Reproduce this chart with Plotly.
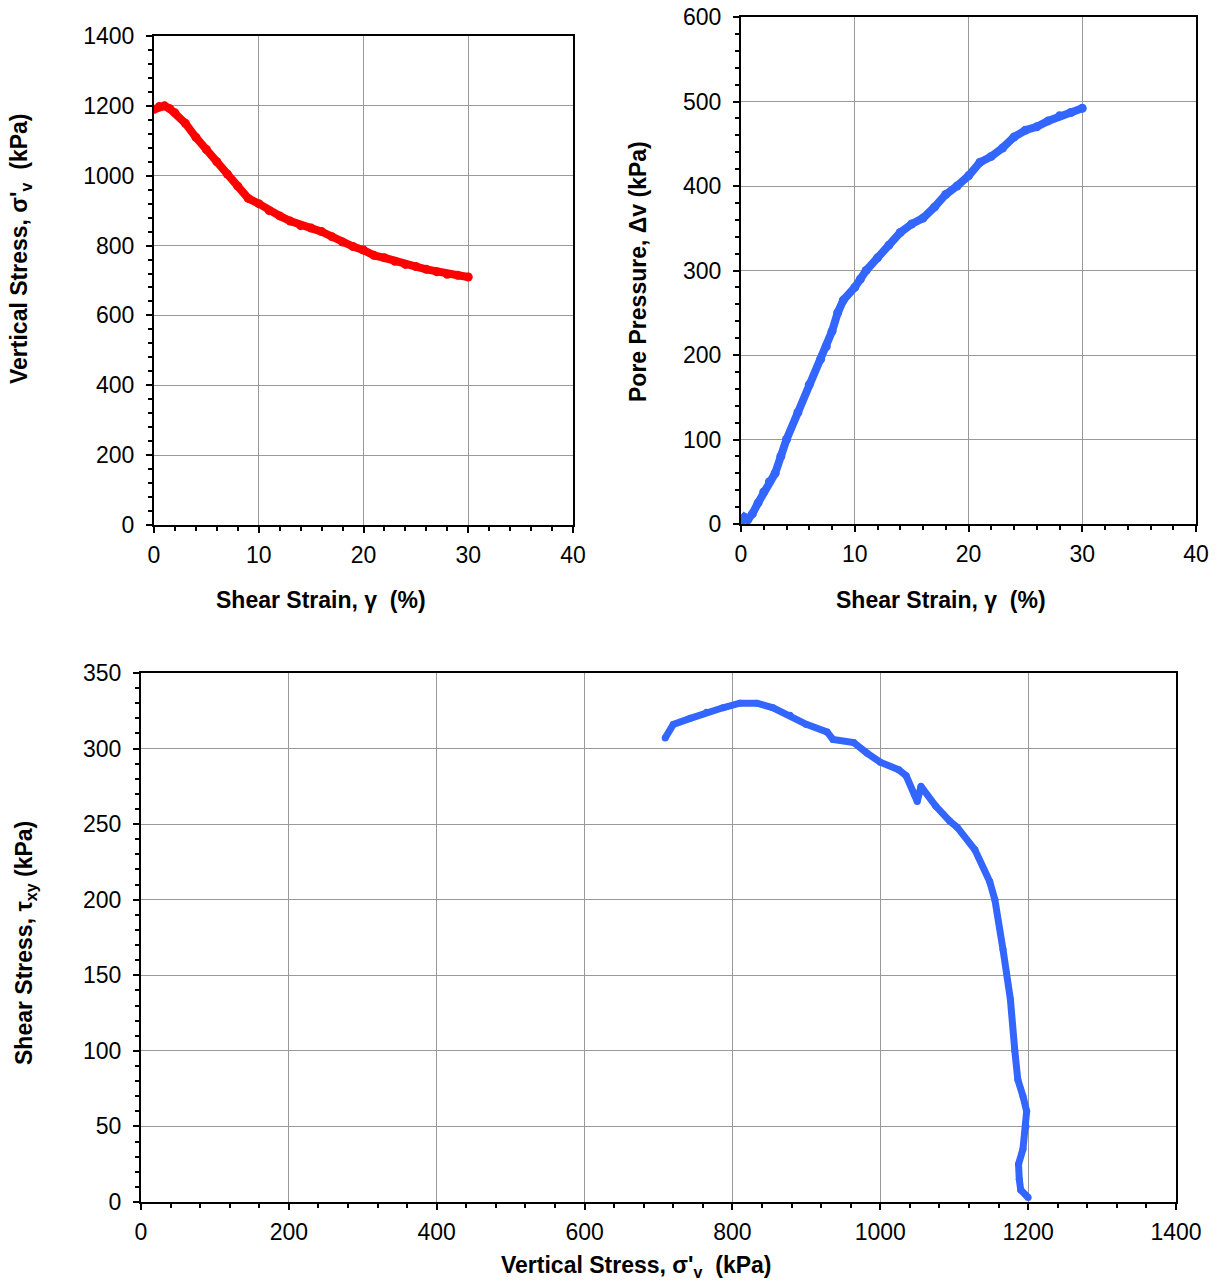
import plotly.graph_objects as go

# Top-left: vertical stress vs shear strain
strain_a = [0, 0.5, 1, 1.5, 2, 3, 4, 5, 6, 7, 8, 9, 10, 11, 12, 13, 14, 15, 16, 17, 18, 19, 20, 21, 22, 23, 24, 25, 26, 27, 28, 29, 30]
sigv_a = [1190, 1198, 1200, 1192, 1180, 1150, 1110, 1075, 1040, 1005, 970, 935, 920, 900, 885, 870, 857, 850, 840, 825, 810, 797, 787, 772, 765, 755, 746, 740, 732, 725, 718, 715, 710]

# Top-right: pore pressure vs shear strain
strain_b = [0, 0.3, 0.6, 1, 1.5, 2, 2.5, 3, 3.5, 4, 5, 6, 7, 7.5, 8, 8.5, 9, 10, 10.5, 11, 12, 13, 14, 15, 16, 17, 18, 19, 20, 21, 22, 23, 24, 25, 26, 27, 28, 29, 30]
pore_b = [2, 8, 5, 12, 25, 38, 50, 60, 80, 100, 132, 165, 195, 210, 228, 250, 265, 280, 290, 300, 315, 330, 345, 355, 362, 375, 390, 400, 412, 428, 435, 445, 458, 466, 470, 477, 483, 487, 492]

# Bottom: shear stress vs vertical stress (stress path)
sigv_c = [1200, 1190, 1188, 1187, 1193, 1197, 1198, 1193, 1186, 1182, 1176, 1166, 1155, 1148, 1128, 1104, 1094, 1075, 1058, 1055, 1050, 1046, 1035, 1025, 1000, 982, 964, 936, 928, 900, 878, 855, 833, 810, 787, 765, 743, 720, 709]
tau_c = [3, 8, 15, 25, 35, 50, 60, 70, 81, 100, 134, 167, 200, 212, 233, 248, 252, 262, 272, 275, 265, 270, 282, 286, 291, 297, 304, 306, 311, 316, 322, 327, 330, 330, 327, 324, 320, 316, 307]

FONT = "Liberation Sans, Arial, sans-serif"
OFF = 8  # page body margin
W, H = 1222 - OFF, 1283 - OFF

fig = go.Figure()
fig.add_trace(go.Scatter(x=strain_a, y=sigv_a, mode="lines+markers", line=dict(color="#FF0000", width=8),
                         marker=dict(color="#FF0000", size=9), xaxis="x", yaxis="y", showlegend=False))
fig.add_trace(go.Scatter(x=strain_b, y=pore_b, mode="lines+markers", line=dict(color="#3366FF", width=8),
                         marker=dict(color="#3366FF", size=9), xaxis="x2", yaxis="y2", showlegend=False))
fig.add_trace(go.Scatter(x=sigv_c, y=tau_c, mode="lines+markers", line=dict(color="#3366FF", width=7),
                         marker=dict(color="#3366FF", size=7), xaxis="x3", yaxis="y3", showlegend=False))

def px_x(p):
    return (p - OFF) / W

def px_y(p):
    return 1 - (p - OFF) / H

def axis(domain, rng, dtick, minor, anchor, standoff):
    return dict(domain=domain, range=rng, dtick=dtick, tick0=0, anchor=anchor,
                showline=True, linecolor="black", linewidth=2, mirror=True,
                ticks="outside", ticklen=6, tickwidth=1.5, tickcolor="black",
                showgrid=True, gridcolor="#9a9a9a", gridwidth=1, zeroline=False,
                tickfont=dict(family=FONT, size=23, color="black"),
                ticklabeloverflow="allow", ticklabelstandoff=standoff,
                minor=dict(dtick=minor, tick0=0, ticks="outside", ticklen=4, tickcolor="black", showgrid=False),
                fixedrange=True)

fig.update_layout(
    width=W, height=H, margin=dict(l=0, r=0, t=0, b=0, pad=0, autoexpand=False),
    paper_bgcolor="white", plot_bgcolor="white",
    xaxis=axis([px_x(154), px_x(573)], [0, 40], 10, 2, "y", 2),
    yaxis=axis([px_y(525), px_y(36)], [0, 1400], 200, 40, "x", 7),
    xaxis2=axis([px_x(741), px_x(1196)], [0, 40], 10, 2, "y2", 2),
    yaxis2=axis([px_y(524), px_y(17)], [0, 600], 100, 20, "x2", 7),
    xaxis3=axis([px_x(141), px_x(1176)], [0, 1400], 200, 40, "y3", 2),
    yaxis3=axis([px_y(1202), px_y(673)], [0, 350], 50, 10, "x3", 7),
)

def ann(text, x, y, angle=0):
    fig.add_annotation(text=text, x=px_x(x), y=px_y(y), xref="paper", yref="paper",
                       showarrow=False, textangle=angle, xanchor="center", yanchor="middle",
                       font=dict(family=FONT, size=23, color="black"))

ann("<b>Shear Strain, γ  (%)</b>", 321, 600)
ann("<b>Shear Strain, γ  (%)</b>", 941, 600)
ann("<b>Vertical Stress, σ'<sub>v</sub>  (kPa)</b>", 21, 249, -90)
ann("<b>Pore Pressure, Δv (kPa)</b>", 638, 272, -90)
ann("<b>Shear Stress, τ<sub>xy</sub> (kPa)</b>", 26, 943, -90)
ann("<b>Vertical Stress, σ'<sub>v</sub>  (kPa)</b>", 636, 1266)

fig.write_html("out.html", config={"responsive": False})
